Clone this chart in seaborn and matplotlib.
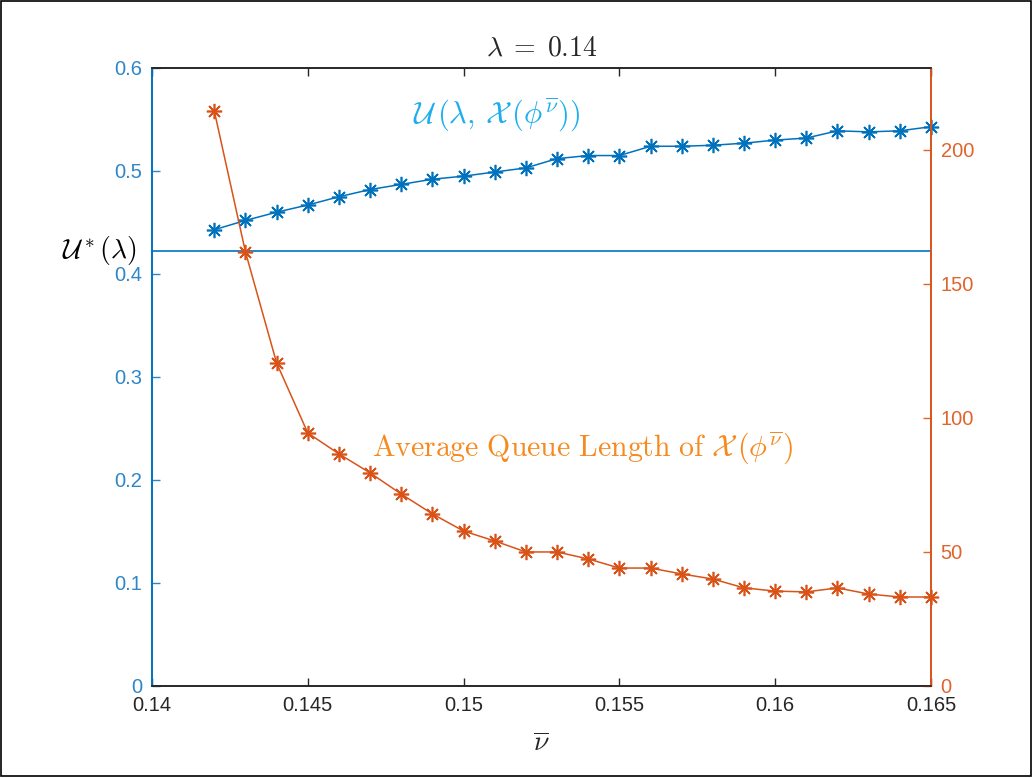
import numpy as np
import pandas as pd
import matplotlib
matplotlib.use("Agg")
import matplotlib.pyplot as plt
import seaborn as sns

# dados
nu_bar = [0.142, 0.143, 0.144, 0.145, 0.146, 0.147, 0.148, 0.149, 0.150, 0.151, 0.152, 0.153,
          0.154, 0.155, 0.156, 0.157, 0.158, 0.159, 0.160, 0.161, 0.162, 0.163, 0.164, 0.165]
utility = [0.443, 0.452, 0.460, 0.467, 0.475, 0.482, 0.487, 0.492, 0.495, 0.499, 0.503, 0.512,
           0.515, 0.515, 0.524, 0.524, 0.525, 0.527, 0.530, 0.532, 0.539, 0.538, 0.539, 0.543]
queue_len = [214.5, 161.9, 120.5, 94.4, 86.6, 79.5, 71.6, 64.2, 57.8, 54.1, 50.0, 50.0,
             47.4, 44.0, 44.0, 41.8, 39.9, 36.6, 35.4, 35.1, 36.6, 34.3, 33.2, 33.2]
u_star = 0.4225

left_ticks = [0, 0.1, 0.2, 0.3, 0.4, 0.5, 0.6]
left_labels = ['0', '0.1', '0.2', '0.3', '0.4', '0.5', '0.6']
right_ticks = [0, 50, 100, 150, 200]
x_ticks = [0.14, 0.145, 0.15, 0.155, 0.16, 0.165]
x_labels = ['0.14', '0.145', '0.15', '0.155', '0.16', '0.165']

df = pd.DataFrame({'nu': nu_bar, 'u': utility, 'q': queue_len})

sns.set_theme(style='white')
plt.rcParams['font.family'] = ['Liberation Sans', 'DejaVu Sans']
plt.rcParams['mathtext.fontset'] = 'cm'

azul = '#0072BD'
laranja = '#D95319'
azul_txt = '#1EAEEE'
laranja_txt = '#F68A1E'
star = (8, 2, 0)

fig = plt.figure(figsize=(10.32, 7.78), dpi=100)
ax = fig.add_axes([0.1473, 0.1183, 0.7548, 0.7943])
ax2 = ax.twinx()

# linha horizontal U*
ax.axhline(u_star, color=azul, lw=1.2, zorder=1)

sns.lineplot(data=df, x='nu', y='u', ax=ax, color=azul, lw=1.1, marker=star,
             markersize=11, markeredgecolor=azul, markeredgewidth=1.2, clip_on=False)
sns.lineplot(data=df, x='nu', y='q', ax=ax2, color=laranja, lw=1.1, marker=star,
             markersize=11, markeredgecolor=laranja, markeredgewidth=1.2, clip_on=False)

ax.set_xlim(0.14, 0.165)
ax.set_ylim(0, 0.6)
ax2.set_ylim(0, 230.6)

ax.set_xticks(x_ticks)
ax.set_xticklabels(x_labels)
ax.set_yticks(left_ticks)
ax.set_yticklabels(left_labels)
ax2.set_yticks(right_ticks)

ax.tick_params(axis='x', direction='in', length=6, width=1, top=True, bottom=True,
               labelsize=14.5, colors='#262626', pad=7)
ax.tick_params(axis='y', direction='in', length=6, width=1, labelsize=14.5,
               colors='#2E86C8', pad=7)
ax2.tick_params(axis='y', direction='in', length=6, width=1, labelsize=14.5,
                colors='#E0642C', pad=7)

for a in (ax, ax2):
    a.spines['top'].set_color('#262626')
    a.spines['bottom'].set_color('#262626')
    a.spines['left'].set_color(azul)
    a.spines['right'].set_color(laranja)
    for s in a.spines.values():
        s.set_linewidth(1.2)
ax.set_xlabel(r'$\overline{\nu}$', fontsize=20, labelpad=12)
ax.set_ylabel('')
ax2.set_ylabel('')
ax.set_title(r'$\lambda\;=\;0.14$', fontsize=20, pad=9)

# textos
ax.text(-0.02, u_star, r'$\mathcal{U}^*(\lambda)$', transform=ax.get_yaxis_transform(),
        ha='right', va='center', fontsize=20, color='black')
ax.text(0.335, 0.924, r'$\mathcal{U}\,(\lambda,\,\mathcal{X}\,(\phi^{\overline{\nu}}))$',
        transform=ax.transAxes, ha='left', va='center', fontsize=22, color=azul_txt)
ax.text(0.282, 0.385, r'$\mathrm{Average\ Queue\ Length\ of\ }\mathcal{X}\,(\phi^{\overline{\nu}})$',
        transform=ax.transAxes, ha='left', va='center', fontsize=21.5, color=laranja_txt)

# moldura da figura
fig.patches.append(plt.Rectangle((0.001, 0.003), 0.998, 0.996, transform=fig.transFigure,
                                 fill=False, edgecolor='black', lw=1.2))

fig.savefig('out.png', dpi=100)
